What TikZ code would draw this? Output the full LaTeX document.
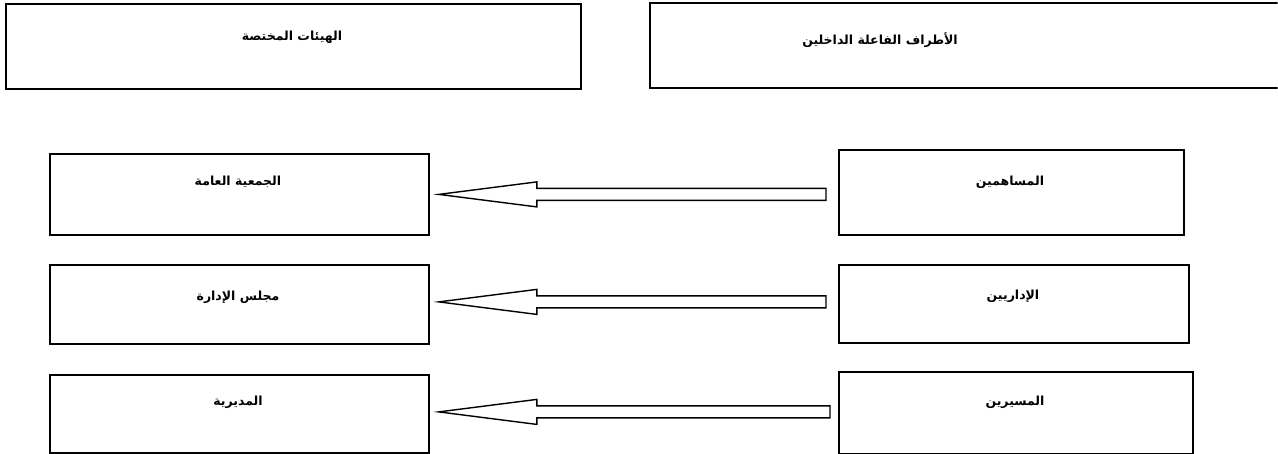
\documentclass[tikz,border=0pt]{standalone}
\usepackage{fontspec}
\TeXXeTstate=1
\newfontfamily\arabicfont[Script=Arabic]{DejaVu Sans}
\usetikzlibrary{calc}
\begin{document}
\begin{tikzpicture}[x=1pt,y=-1pt,
  box/.style={draw=black, line width=1.8pt, fill=white, inner sep=0pt, anchor=north west},
  lbl/.style={font=\arabicfont\bfseries\fontsize{12.5}{15}\selectfont, inner sep=0pt},
  blockarrow/.style={draw=black, line width=1.4pt, fill=white, line join=miter}]
\useasboundingbox (0,0) rectangle (1278,454);
% top boxes
\node[box, minimum width=575pt, minimum height=85pt] (tl) at (5,3) {};
\node[lbl] (ttl) at (292,37) {\beginR الهيئات المختصة\endR};
\begin{scope}
\clip (600,-10) rectangle (1277.5,100);
\node[box, minimum width=680pt, minimum height=85pt] (tr) at (649,2) {};
\end{scope}
\node[lbl] (ttr) at (880,40) {\beginR الأطراف الفاعلة الداخلين\endR};
% left boxes
\node[box, minimum width=379pt, minimum height=81pt] (l1) at (49,153) {};
\node[lbl] (tl1) at (238,182) {\beginR الجمعية العامة\endR};
\node[box, minimum width=379pt, minimum height=79pt] (l2) at (49,264) {};
\node[lbl] (tl2) at (238,297) {\beginR مجلس الإدارة\endR};
\node[box, minimum width=379pt, minimum height=78pt] (l3) at (49,374) {};
\node[lbl] (tl3) at (238,402) {\beginR المديرية\endR};
% right boxes
\node[box, minimum width=345pt, minimum height=85pt] (r1) at (838,149) {};
\node[lbl] (tr1) at (1010,182) {\beginR المساهمين\endR};
\node[box, minimum width=350pt, minimum height=78pt] (r2) at (838,264) {};
\node[lbl] (tr2) at (1013,296) {\beginR الإداريين\endR};
\node[box, minimum width=354pt, minimum height=82pt] (r3) at (838,371) {};
\node[lbl] (tr3) at (1015,402) {\beginR المسيرين\endR};
% block arrows
\foreach \a/\b/\dy/\gap in {r1/l1/0/12, r2/l2/-2.5/12, r3/l3/-2/8}{
  \coordinate (s) at ($(\a.west |- \b.east)+(-\gap,\dy)$);
  \coordinate (t) at ($(\b.east)+(9,\dy)$);
  \draw[blockarrow] (t) -- ++(98,-12.5) -- ++(0,6.5) -- ($(s)+(0,-6)$) -- ($(s)+(0,6)$)
     -- ($(t)+(98,6)$) -- ++(0,6.5) -- cycle;
}
\end{tikzpicture}
\end{document}
